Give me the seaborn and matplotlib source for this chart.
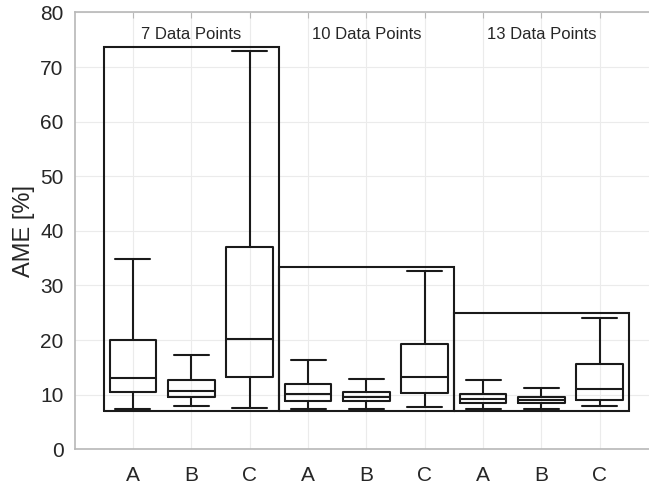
import numpy as np
import pandas as pd
import seaborn as sns
import matplotlib.pyplot as plt

# box statistics (whisker low, Q1, median, Q3, whisker high)
keys = ["A7", "B7", "C7", "A10", "B10", "C10", "A13", "B13", "C13"]
tick_labels = ["A", "B", "C"] * 3
lows = [7.4, 7.9, 7.5, 7.4, 7.4, 7.7, 7.4, 7.4, 7.9]
q1s = [10.4, 9.6, 13.2, 8.9, 8.8, 10.3, 8.4, 8.5, 9.0]
medians = [13.1, 10.7, 20.2, 10.1, 9.5, 13.3, 9.2, 9.0, 11.0]
q3s = [20.0, 12.6, 37.1, 11.9, 10.4, 19.3, 10.1, 9.5, 15.6]
highs = [34.9, 17.3, 73.0, 16.4, 12.8, 32.7, 12.7, 11.2, 24.1]

groups = ["7 Data Points", "10 Data Points", "13 Data Points"]
group_tops = [73.7, 33.4, 24.9]
group_bottom = 7.0

# five values per box give exactly those quartiles
rows = []
for k, lo, a, m, b, hi in zip(keys, lows, q1s, medians, q3s, highs):
    for v in (lo, a, m, b, hi):
        rows.append({"key": k, "AME": v})
df = pd.DataFrame(rows)

sns.set_style("white")
plt.rcParams['font.family'] = ['Liberation Sans', 'DejaVu Sans']
txt = "#262626"
edge = "#b8b8b8"

fig = plt.figure(figsize=(6.49, 4.92), dpi=100)
ax = fig.add_axes([0.115, 0.0868, 0.899, 0.888])

sns.boxplot(data=df, x="key", y="AME", order=keys, whis=np.inf, fill=False,
            color="#1a1a1a", linewidth=1.5, width=0.8, capwidths=0.6, ax=ax)

# group rectangles
for i, (top, name) in enumerate(zip(group_tops, groups)):
    x0 = 3 * i - 0.5
    ax.plot([x0, x0, x0 + 3, x0 + 3, x0], [group_bottom, top, top, group_bottom, group_bottom],
            color="#1a1a1a", lw=1.5, solid_joinstyle="miter", zorder=3)
    ax.text(3 * i + 1, 76, name, ha="center", va="center", fontsize=12, color=txt)

ax.set_xlim(-1, 9)
ax.set_ylim(0, 80)
ax.set_yticks(range(0, 81, 10))
ax.set_xticks(range(9))
ax.set_xticklabels(tick_labels)
ax.set_xlabel("")
ax.set_ylabel("AME [%]", fontsize=17, color=txt, labelpad=4)
ax.grid(True, color="#ebebeb", lw=0.8)
ax.set_axisbelow(True)
ax.tick_params(axis="both", direction="in", length=4, color=edge, labelsize=15,
               labelcolor=txt, top=True, right=True)
ax.tick_params(axis="y", pad=8)
ax.tick_params(axis="x", pad=12)
for s in ax.spines.values():
    s.set_color(edge)
    s.set_linewidth(1.2)

fig.savefig("out.png", dpi=100)
